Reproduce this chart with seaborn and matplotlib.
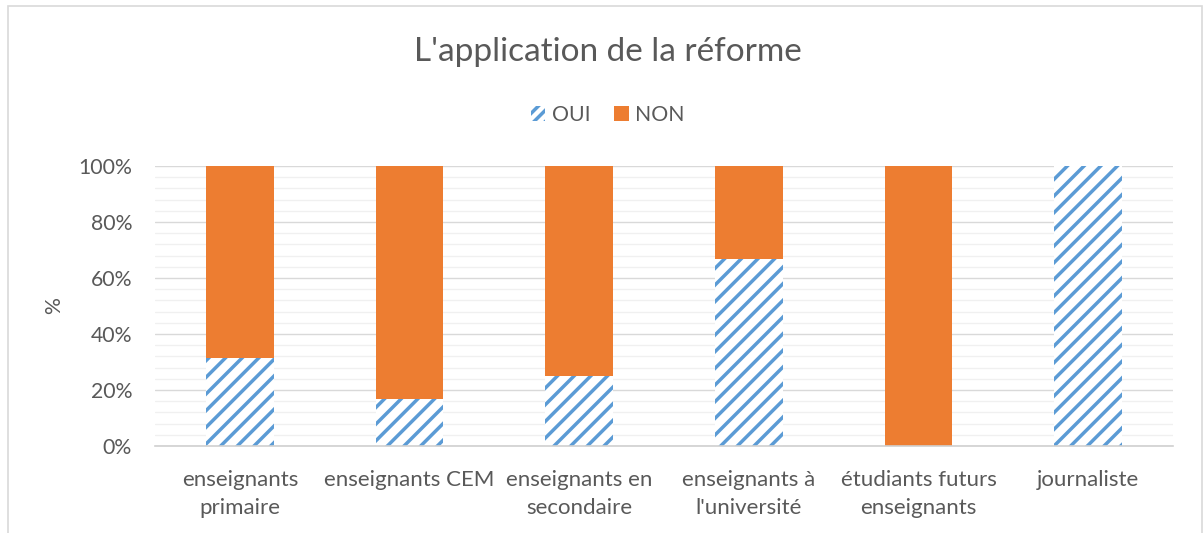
import numpy as np
import pandas as pd
import seaborn as sns
import matplotlib.pyplot as plt
import matplotlib.patches as mpatches
from matplotlib.ticker import MultipleLocator, PercentFormatter

categories = ["enseignants\nprimaire", "enseignants CEM", "enseignants en\nsecondaire",
              "enseignants à\nl'université", "étudiants futurs\nenseignants", "journaliste"]
oui = [31.6, 16.7, 25.0, 66.7, 0.0, 100.0]
non = [68.4, 83.3, 75.0, 33.3, 100.0, 0.0]

bleu = "#5B9BD5"
orange = "#ED7D31"
gris = "#595959"

sns.set_theme(style="white")
plt.rcParams['font.family'] = ['Lato', 'DejaVu Sans']
plt.rcParams['hatch.linewidth'] = 2.5

df = pd.DataFrame({"cat": categories, "OUI": oui, "NON": non})
df["total"] = df["OUI"] + df["NON"]

fig = plt.figure(figsize=(12.03, 5.33), dpi=100)
ax = fig.add_axes([155 / 1203, 87 / 533, (1173 - 155) / 1203, 280 / 533])

# barre complète (NON) puis OUI par-dessus
sns.barplot(data=df, x="cat", y="total", color=orange, width=0.4,
            saturation=1, linewidth=0, ax=ax)
sns.barplot(data=df, x="cat", y="OUI", color="white", width=0.4,
            saturation=1, linewidth=0, ax=ax)
for p in ax.containers[1]:
    p.set_hatch("//")
    p.set_edgecolor(bleu)
    p.set_facecolor("white")
    p.set_linewidth(0)

ax.set_ylim(0, 100)
ax.set_xlim(-0.5, len(categories) - 0.5)
ax.yaxis.set_major_locator(MultipleLocator(20))
ax.yaxis.set_minor_locator(MultipleLocator(4))
ax.yaxis.set_major_formatter(PercentFormatter(decimals=0))
ax.grid(axis="y", which="major", color="#D9D9D9", linewidth=1)
ax.grid(axis="y", which="minor", color="#F0F0F0", linewidth=1)
ax.set_axisbelow(True)
for s in ["top", "right", "left"]:
    ax.spines[s].set_visible(False)
ax.spines["bottom"].set_color("#D0D0D0")
ax.spines["bottom"].set_linewidth(1.2)
ax.tick_params(axis="both", which="both", length=0, labelcolor=gris)
ax.tick_params(axis="x", pad=17, labelsize=16)
ax.tick_params(axis="y", pad=16.5, labelsize=15.3)
for t in ax.get_xticklabels():
    t.set_linespacing(1.5)
ax.set_xlabel("")
ax.set_ylabel("%", fontsize=15.3, color=gris, labelpad=10)

fig.text(0.505, 0.902, "L'application de la réforme", ha="center", va="center",
         fontsize=24, color=gris)

h_oui = mpatches.Patch(facecolor="white", edgecolor=bleu, hatch="///", linewidth=0, label="OUI")
h_non = mpatches.Patch(facecolor=orange, edgecolor=orange, linewidth=0, label="NON")
fig.legend(handles=[h_oui, h_non], loc="center", bbox_to_anchor=(0.505, 0.785), ncol=2,
           frameon=False, fontsize=15.3, labelcolor=gris, handlelength=0.7,
           handleheight=0.7, handletextpad=0.3, columnspacing=1.1)

fig.patches.append(mpatches.Rectangle((8 / 1203, -0.1), (1202 - 8) / 1203, (527 / 533) + 0.1,
                                      transform=fig.transFigure, fill=False,
                                      edgecolor="#D9D9D9", linewidth=1.2))

fig.savefig("out.png", dpi=100)
